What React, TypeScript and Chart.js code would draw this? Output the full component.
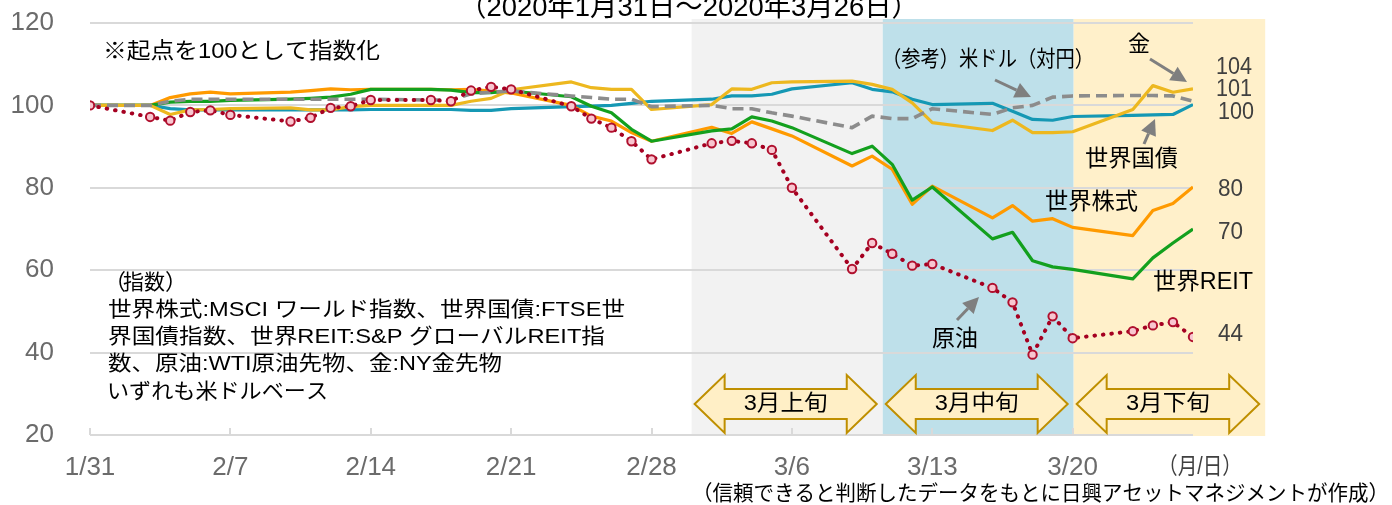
import React, { useEffect, useRef } from 'react';
import { Chart, registerables } from 'chart.js';

Chart.register(...registerables);

// ---- data ----
// day offsets from 1/31 (weekdays only)
const dayOffsets = [
  0,
  3, 4, 5, 6, 7,
  10, 11, 12, 13, 14,
  17, 18, 19, 20, 21,
  24, 25, 26, 27, 28,
  31, 32, 33, 34, 35,
  38, 39, 40, 41, 42,
  45, 46, 47, 48, 49,
  52, 53, 54, 55,
];
const xTickDays = [0, 7, 14, 21, 28, 35, 42, 49];
const xTickLabels = ['1/31', '2/7', '2/14', '2/21', '2/28', '3/6', '3/13', '3/20'];
const yTicks = [20, 40, 60, 80, 100, 120];

const worldStocks = [
  100,
  100, 101.9, 102.8, 103.2, 102.8,
  103.2, 103.6, 104.0, 103.8, 103.9,
  103.9, 103.8, 103.9, 103.5, 103.0,
  100.0, 97.4, 96.2, 93.4, 91.3,
  94.7, 93.2, 96.0, 94.3, 92.6,
  85.3, 87.7, 84.5, 76.0, 80.4,
  72.7, 75.7, 71.9, 72.5, 70.4,
  68.4, 74.5, 76.2, 80.2,
];
const worldReit = [
  100,
  100, 100.8, 101.0, 101.0, 101.2,
  101.5, 101.7, 102.0, 102.7, 103.9,
  103.9, 103.7, 103.1, 103.1, 103.5,
  102.1, 99.8, 98.2, 94.2, 91.3,
  93.8, 94.3, 97.2, 96.2, 94.6,
  88.3, 90.1, 85.7, 77.0, 80.2,
  67.6, 69.2, 62.3, 60.8, 60.2,
  57.9, 63.0, 66.6, 70.0,
];
const gold = [
  100,
  100, 97.8, 98.9, 99.0, 99.2,
  99.4, 98.9, 98.9, 99.7, 100.0,
  100.0, 100.0, 101.0, 101.7, 103.8,
  105.7, 104.3, 103.9, 103.9, 99.0,
  100.2, 104.0, 103.9, 105.5, 105.7,
  105.9, 105.1, 103.9, 100.6, 95.8,
  93.9, 96.4, 93.4, 93.4, 93.6,
  99.0, 104.8, 103.2, 104.0,
];
const worldBonds = [
  100,
  100, 99.2, 98.9, 98.9, 98.9,
  98.9, 98.9, 98.9, 98.9, 99.0,
  99.0, 99.0, 98.8, 98.8, 99.2,
  99.7, 99.8, 100.0, 100.5, 101.0,
  101.5, 102.3, 102.3, 102.7, 104.0,
  105.5, 103.9, 103.3, 101.5, 100.2,
  100.5, 98.6, 96.6, 96.4, 97.3,
  97.6, 97.7, 97.8, 100.2,
];
const usdJpy = [
  100,
  100, 101.0, 101.5, 101.5, 101.5,
  101.5, 101.5, 101.5, 101.5, 101.5,
  101.3, 101.3, 102.8, 103.2, 103.5,
  102.3, 101.9, 101.5, 101.5, 99.7,
  100.0, 99.2, 99.2, 98.2, 97.4,
  94.6, 97.4, 96.8, 96.8, 99.2,
  97.8, 99.4, 100.0, 102.0, 102.3,
  102.4, 102.4, 102.3, 101.0,
];
const crudeOil = [
  100,
  97.2, 96.3, 98.4, 98.8, 97.7,
  96.1, 97.0, 99.4, 99.8, 101.3,
  101.3, 101.0, 103.6, 104.5, 103.9,
  99.8, 96.8, 94.6, 91.3, 86.9,
  90.8, 91.4, 90.8, 89.2, 80.0,
  60.3, 66.6, 64.0, 61.1, 61.5,
  55.7, 52.2, 39.5, 48.8, 43.5,
  45.2, 46.6, 47.4, 43.8,
];

const periodBounds = [
  [30, 39.53],
  [39.53, 49.05],
  [49.05, 58.6],
];
const periodLabels = ['3月上旬', '3月中旬', '3月下旬'];
const periodColors = ['#F2F2F2', '#BEE0EA', '#FFF0CA'];

// ---- styles / annotations ----
const FAMILY = '"Liberation Sans", "Noto Sans CJK JP", sans-serif';

type Label = {
  text: string;
  x: number;
  y: number;
  size: number;
  color: string;
  width?: number;
  baseline?: CanvasTextBaseline;
};

const labels: Label[] = [
  { text: '（2020年1月31日～2020年3月26日）', x: 459, y: 16, size: 27, color: '#000', width: 460, baseline: 'alphabetic' },
  { text: '※起点を100として指数化', x: 103, y: 52, size: 22, color: '#000', width: 277 },
  { text: '（', x: 104, y: 283, size: 22, color: '#000' },
  { text: '指数', x: 123, y: 283, size: 21, color: '#000', width: 42 },
  { text: '）', x: 165, y: 283, size: 22, color: '#000' },
  { text: '世界株式:MSCI ワールド指数、世界国債:FTSE世', x: 108, y: 310.5, size: 21, color: '#000', width: 517 },
  { text: '界国債指数、世界REIT:S&P グローバルREIT指', x: 108, y: 337.5, size: 21, color: '#000', width: 497 },
  { text: '数、原油:WTI原油先物、金:NY金先物', x: 108, y: 364.5, size: 21, color: '#000', width: 394 },
  { text: 'いずれも米ドルベース', x: 107, y: 392, size: 21, color: '#000', width: 221 },
  { text: '（参考）米ドル（対円）', x: 882, y: 60, size: 22, color: '#000', width: 212 },
  { text: '金', x: 1128, y: 45, size: 22, color: '#000' },
  { text: '世界国債', x: 1085, y: 160, size: 23, color: '#000', width: 93 },
  { text: '世界株式', x: 1045, y: 203, size: 23, color: '#000', width: 93 },
  { text: '世界REIT', x: 1153, y: 283, size: 23, color: '#000', width: 100 },
  { text: '原油', x: 932, y: 340, size: 23, color: '#000', width: 46 },
  { text: '104', x: 1216, y: 68, size: 23, color: '#404040', width: 36 },
  { text: '101', x: 1216, y: 90, size: 23, color: '#404040', width: 36 },
  { text: '100', x: 1218, y: 113, size: 23, color: '#404040', width: 36 },
  { text: '80', x: 1218, y: 190, size: 23, color: '#404040', width: 25 },
  { text: '70', x: 1218, y: 233, size: 23, color: '#404040', width: 25 },
  { text: '44', x: 1218, y: 335, size: 23, color: '#404040', width: 25 },
  { text: '（月/日）', x: 1158, y: 468, size: 23, color: '#404040', width: 84 },
  { text: '（信頼できると判断したデータをもとに日興アセットマネジメントが作成）', x: 692, y: 494, size: 21, color: '#000', width: 697 },
];

const pointers = [
  [1150, 59, 1187, 82],
  [1144, 144, 1155, 119],
  [995, 80, 1031, 97],
  [957, 320, 979, 297],
];

function drawLabel(ctx: CanvasRenderingContext2D, l: Label) {
  ctx.save();
  ctx.font = `${l.size}px ${FAMILY}`;
  ctx.fillStyle = l.color;
  ctx.textBaseline = l.baseline || 'middle';
  ctx.textAlign = 'left';
  const w = ctx.measureText(l.text).width;
  const target = l.width || w;
  const sx = target / w;
  ctx.translate(l.x, l.y);
  ctx.scale(sx, 1);
  ctx.fillText(l.text, 0, 0);
  ctx.restore();
}

function drawPointer(ctx: CanvasRenderingContext2D, x1: number, y1: number, x2: number, y2: number) {
  const ang = Math.atan2(y2 - y1, x2 - x1);
  const hl = 16;
  const hw = 8;
  const bx = x2 - hl * Math.cos(ang);
  const by = y2 - hl * Math.sin(ang);
  ctx.save();
  ctx.strokeStyle = '#7F7F7F';
  ctx.fillStyle = '#7F7F7F';
  ctx.lineWidth = 3;
  ctx.beginPath();
  ctx.moveTo(x1, y1);
  ctx.lineTo(bx, by);
  ctx.stroke();
  ctx.beginPath();
  ctx.moveTo(x2, y2);
  ctx.lineTo(bx + hw * Math.sin(ang), by - hw * Math.cos(ang));
  ctx.lineTo(bx - hw * Math.sin(ang), by + hw * Math.cos(ang));
  ctx.closePath();
  ctx.fill();
  ctx.restore();
}

function drawDoubleArrow(ctx: CanvasRenderingContext2D, x0: number, x1: number, cy: number, text: string) {
  const hl = 30;
  const hh = 29;
  const sh = 15;
  ctx.save();
  ctx.beginPath();
  ctx.moveTo(x0, cy);
  ctx.lineTo(x0 + hl, cy - hh);
  ctx.lineTo(x0 + hl, cy - sh);
  ctx.lineTo(x1 - hl, cy - sh);
  ctx.lineTo(x1 - hl, cy - hh);
  ctx.lineTo(x1, cy);
  ctx.lineTo(x1 - hl, cy + hh);
  ctx.lineTo(x1 - hl, cy + sh);
  ctx.lineTo(x0 + hl, cy + sh);
  ctx.lineTo(x0 + hl, cy + hh);
  ctx.closePath();
  ctx.fillStyle = '#FFEFC6';
  ctx.fill();
  ctx.strokeStyle = '#BF8F00';
  ctx.lineWidth = 2;
  ctx.lineJoin = 'miter';
  ctx.stroke();
  ctx.restore();
  const cx = (x0 + x1) / 2;
  drawLabel(ctx, { text, x: cx - 42, y: cy, size: 22, color: '#000', width: 84 });
}

const decorPlugin = {
  id: 'decor',
  beforeDraw(chart: any) {
    const { ctx, chartArea, scales } = chart;
    const xs = scales.x;
    ctx.save();
    periodBounds.forEach((b, i) => {
      const l = xs.getPixelForValue(b[0]);
      const r = xs.getPixelForValue(b[1]);
      ctx.fillStyle = periodColors[i];
      ctx.fillRect(l, chartArea.top - 4, r - l, chartArea.bottom - chartArea.top + 5);
    });
    ctx.restore();
  },
  afterDraw(chart: any) {
    const { ctx, chartArea, scales } = chart;
    const xs = scales.x;
    ctx.save();
    ctx.strokeStyle = '#D9D9D9';
    ctx.lineWidth = 2;
    xTickDays.forEach((d) => {
      const px = Math.round(xs.getPixelForValue(d));
      ctx.beginPath();
      ctx.moveTo(px, chartArea.bottom);
      ctx.lineTo(px, chartArea.bottom - 7);
      ctx.stroke();
    });
    ctx.restore();
    const cy = chartArea.bottom - 31;
    periodBounds.forEach((b, i) => {
      const l = xs.getPixelForValue(b[0]);
      const r = xs.getPixelForValue(b[1]);
      drawDoubleArrow(ctx, l + 3, r - 6, cy, periodLabels[i]);
    });
    pointers.forEach((p) => drawPointer(ctx, p[0], p[1], p[2], p[3]));
    labels.forEach((l) => drawLabel(ctx, l));
  },
};

function series(values: number[]) {
  return dayOffsets.map((d, i) => ({ x: d, y: values[i] }));
}

export default function App() {
  const ref = useRef<HTMLCanvasElement | null>(null);

  useEffect(() => {
    document.body.style.margin = '0';
    const canvas = ref.current;
    if (!canvas) return;
    const base = { fill: false, tension: 0, pointRadius: 0, borderWidth: 3.2, borderJoinStyle: 'round' as const };
    const chart = new Chart(canvas, {
      type: 'line',
      data: {
        datasets: [
          {
            ...base,
            label: '原油',
            data: series(crudeOil),
            borderColor: '#A50021',
            borderWidth: 4,
            borderDash: [0.5, 8],
            borderCapStyle: 'round',
            pointRadius: 4.2,
            pointBorderWidth: 2,
            pointBackgroundColor: '#F8C6D0',
            pointBorderColor: '#B0102E',
          },
          { ...base, label: '（参考）米ドル（対円）', data: series(usdJpy), borderColor: '#8C8C8C', borderWidth: 3.6, borderDash: [11, 6] },
          { ...base, label: '金', data: series(gold), borderColor: '#EDB81F' },
          { ...base, label: '世界REIT', data: series(worldReit), borderColor: '#13A01E' },
          { ...base, label: '世界株式', data: series(worldStocks), borderColor: '#FF9A00' },
          { ...base, label: '世界国債', data: series(worldBonds), borderColor: '#1598B4' },
        ],
      },
      options: {
        animation: false,
        responsive: false,
        maintainAspectRatio: false,
        layout: { padding: { left: 0, right: 199, top: 23, bottom: 0 } },
        plugins: {
          legend: { display: false },
          tooltip: { enabled: false },
          title: { display: false },
        },
        scales: {
          x: {
            type: 'linear',
            min: 0,
            max: 55,
            grid: { display: false, drawTicks: false },
            border: { display: false },
            afterBuildTicks: (s: any) => {
              s.ticks = xTickDays.map((v) => ({ value: v }));
            },
            afterFit: (s: any) => {
              s.height = 70;
            },
            ticks: {
              autoSkip: false,
              maxRotation: 0,
              padding: 17,
              color: '#6B6B6B',
              font: { family: FAMILY, size: 26 },
              callback: (v: any) => {
                const i = xTickDays.indexOf(Number(v));
                return i >= 0 ? xTickLabels[i] : '';
              },
            },
          },
          y: {
            min: 20,
            max: 120,
            afterBuildTicks: (s: any) => {
              s.ticks = yTicks.map((v) => ({ value: v }));
            },
            afterFit: (s: any) => {
              s.width = 90;
            },
            grid: { color: '#D9D9D9', lineWidth: 2, drawTicks: true, tickLength: 36, tickColor: 'rgba(0,0,0,0)' },
            border: { display: false },
            ticks: {
              padding: 0,
              color: '#6B6B6B',
              font: { family: FAMILY, size: 26 },
            },
          },
        },
      },
      plugins: [decorPlugin],
    });
    return () => chart.destroy();
  }, []);

  return (
    <div style={{ position: 'absolute', left: 0, top: 0, width: 1392, height: 505, background: '#fff' }}>
      <canvas ref={ref} width={1392} height={505} style={{ display: 'block', width: 1392, height: 505 }} />
    </div>
  );
}
